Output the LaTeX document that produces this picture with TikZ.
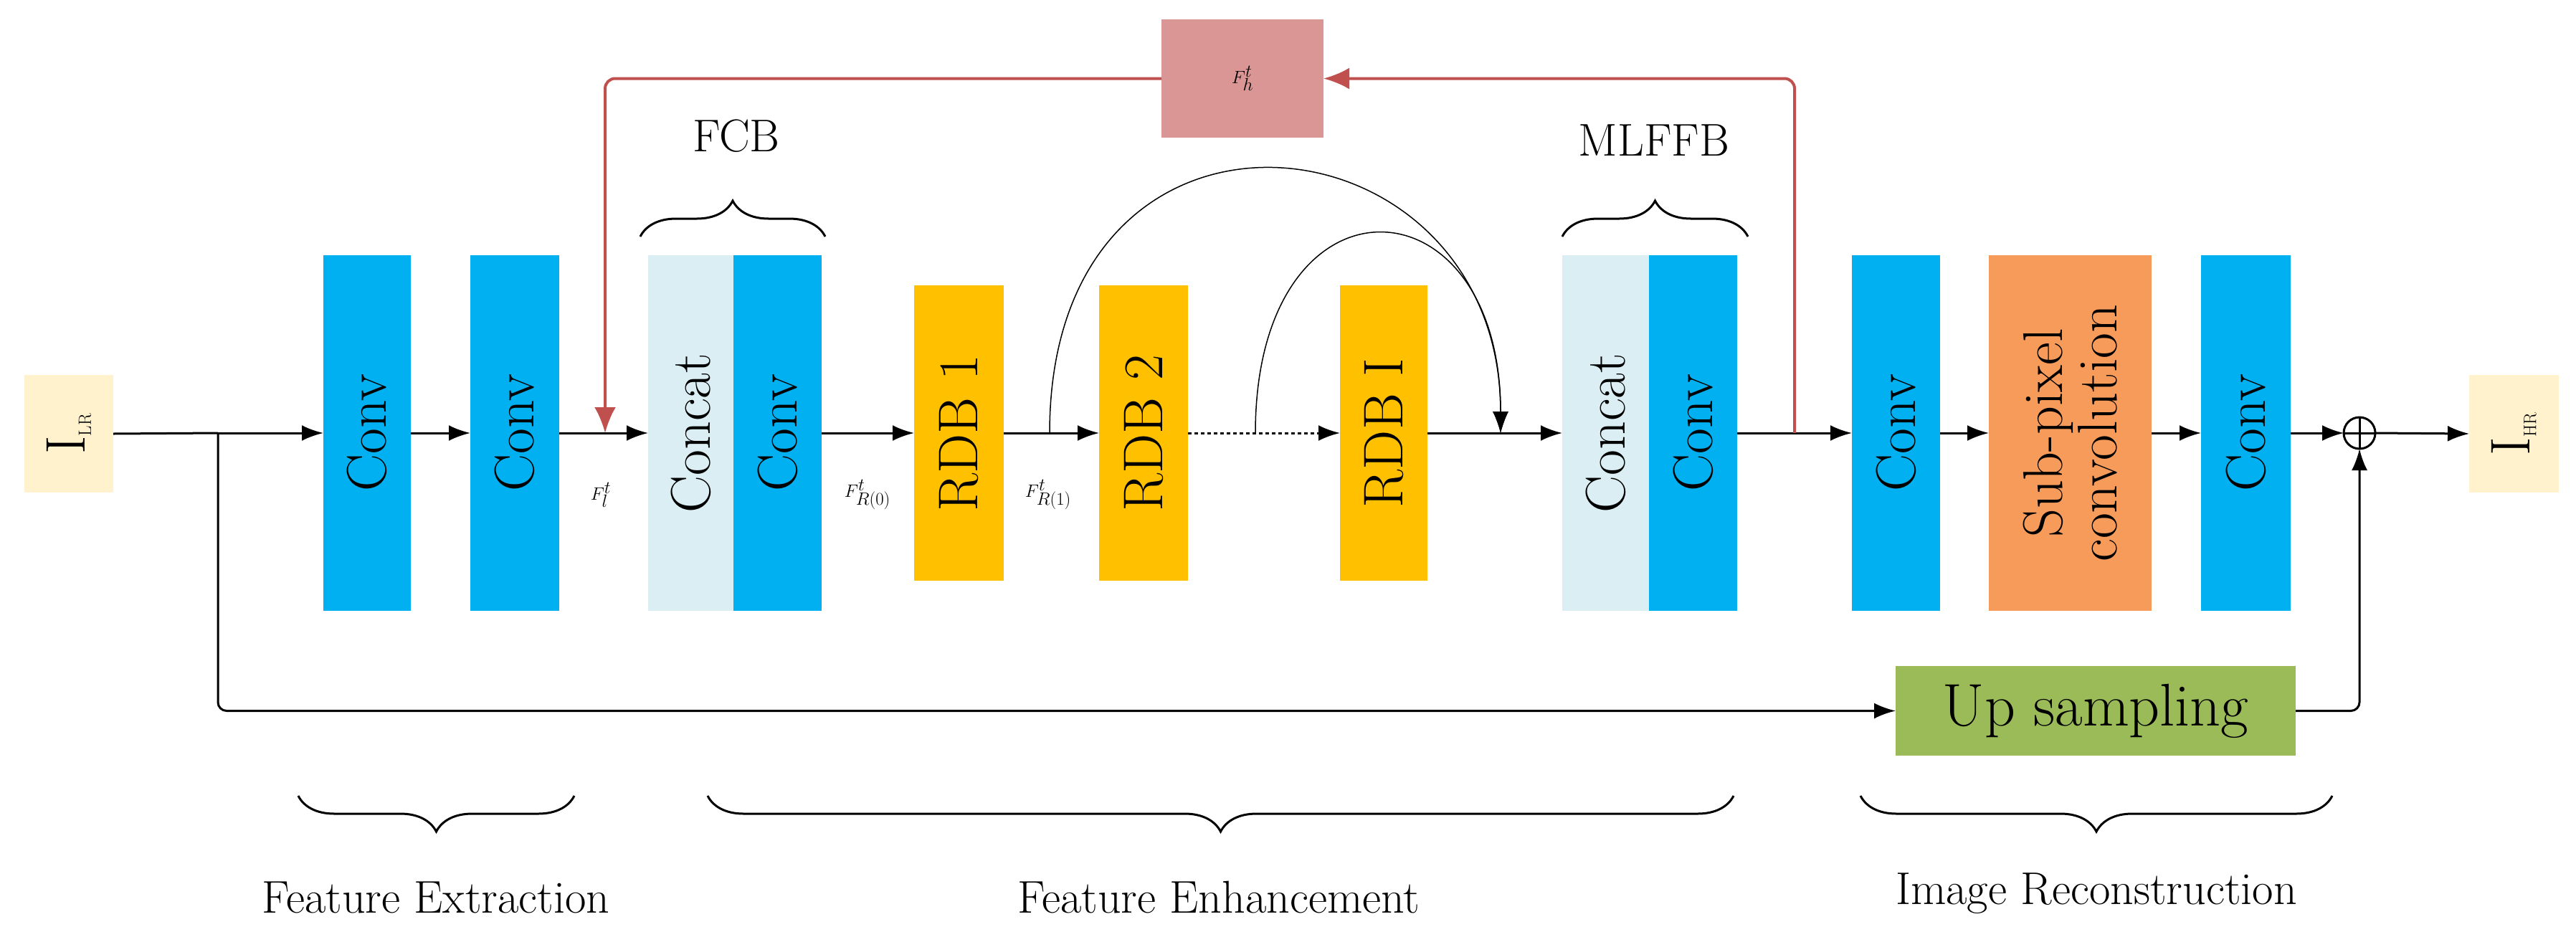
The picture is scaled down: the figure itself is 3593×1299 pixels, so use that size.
\documentclass[tikz,border=0pt]{standalone}
\usetikzlibrary{arrows.meta,decorations.pathreplacing,calc}
\definecolor{convc}{HTML}{00B0F0}
\definecolor{catc}{HTML}{DAEEF3}
\definecolor{rdbc}{HTML}{FFC000}
\definecolor{subc}{HTML}{F79B5A}
\definecolor{upc}{HTML}{9BBB59}
\definecolor{redc}{HTML}{C0504D}
\definecolor{fhc}{HTML}{D99694}
\definecolor{ioc}{HTML}{FFF2CC}
\begin{document}
\begin{tikzpicture}[x=1pt,y=-1pt,
  blk/.style={inner sep=0pt,outer sep=0pt},
  big/.style={font=\fontsize{78}{88}\selectfont},
  arr/.style={line width=3pt,-{Latex[length=30pt,width=22pt]}},
  lin/.style={line width=3pt},
  brc/.style={line width=3pt,decorate,decoration={brace,amplitude=50pt}},
  lab/.style={font=\fontsize{64}{72}\selectfont},
  fl/.style={font=\fontsize{62}{70}\selectfont}]
\useasboundingbox (0,0) rectangle (3593,1299);
% boxes
\node[blk,fill=ioc,minimum width=124,minimum height=164] (ilr) at (96,605) {};
\node[big,rotate=90] at (ilr) {I$_{\fontsize{44}{50}\selectfont\mathrm{LR}}$};
\node[blk,fill=convc,minimum width=122,minimum height=496] (c1) at (512,604) {};
\node[big,rotate=90] at (c1) {Conv};
\node[blk,fill=convc,minimum width=124,minimum height=496] (c2) at (718,604) {};
\node[big,rotate=90] at (c2) {Conv};
\node[blk,fill=catc,minimum width=119,minimum height=496] (cat1) at (963.5,604) {};
\node[big,rotate=90] at (cat1) {Concat};
\node[blk,fill=convc,minimum width=123,minimum height=496] (cv1) at (1084.5,604) {};
\node[big,rotate=90] at (cv1) {Conv};
\node[blk,fill=rdbc,minimum width=125,minimum height=412] (r1) at (1337.5,604) {};
\node[big,rotate=90] at (r1) {RDB 1};
\node[blk,fill=rdbc,minimum width=124,minimum height=412] (r2) at (1595,604) {};
\node[big,rotate=90] at (r2) {RDB 2};
\node[blk,fill=rdbc,minimum width=122,minimum height=412] (rI) at (1930,604) {};
\node[big,rotate=90] at (rI) {RDB I};
\node[blk,fill=catc,minimum width=121,minimum height=496] (cat2) at (2239.5,604) {};
\node[big,rotate=90] at (cat2) {Concat};
\node[blk,fill=convc,minimum width=123,minimum height=496] (cv2) at (2361.5,604) {};
\node[big,rotate=90] at (cv2) {Conv};
\node[blk,fill=convc,minimum width=123,minimum height=496] (c3) at (2644.5,604) {};
\node[big,rotate=90] at (c3) {Conv};
\node[blk,fill=subc,minimum width=227,minimum height=496] (sp) at (2887.5,604) {};
\node[big,rotate=90,align=center] at (sp) {Sub-pixel\\[-12pt]convolution};
\node[blk,fill=convc,minimum width=125,minimum height=496] (c4) at (3132.5,604) {};
\node[big,rotate=90] at (c4) {Conv};
\node[blk,draw,circle,line width=3pt,minimum size=44] (o) at (3291,604) {};
\draw[line width=3pt] (o.north) -- (o.south) (o.west) -- (o.east);
\node[blk,fill=ioc,minimum width=125,minimum height=164] (ihr) at (3506.5,605) {};
\node[big,rotate=90] at (ihr) {I$_{\fontsize{44}{50}\selectfont\mathrm{HR}}$};
\node[blk,fill=upc,minimum width=558,minimum height=125] (up) at (2923,991.5) {};
\node[font=\fontsize{84}{94}\selectfont] at (up) {Up sampling};
\node[blk,fill=fhc,minimum width=226,minimum height=165] (fh) at (1733,109.5) {};
\node[fl] at (fh) {$F_h^t$};
% main line
\coordinate (b) at (304,604);
\coordinate (rt) at (2503,604);
\coordinate (rl) at (844,604);
\coordinate (m) at (2093,604);
\draw[lin] (ilr.east) -- (b);
\draw[arr] (b) -- (c1.west);
\draw[arr] (c1.east) -- (c2.west);
\draw[arr] (c2.east) -- (cat1.west);
\draw[arr] (cv1.east) -- (r1.west);
\draw[arr] (r1.east) -- (r2.west);
\draw[arr,dash pattern=on 5pt off 4pt] (r2.east) -- (rI.west);
\draw[arr] (rI.east) -- (cat2.west);
\draw[arr] (cv2.east) -- (c3.west);
\draw[arr] (c3.east) -- (sp.west);
\draw[arr] (sp.east) -- (c4.west);
\draw[arr] (c4.east) -- (o.west);
\draw[arr] (o.east) -- (ihr.west);
\draw[arr,rounded corners=12pt] (b) |- (up.west);
\draw[arr,rounded corners=12pt] (up.east) -| (o.south);
% red feedback
\draw[line width=4pt,redc,-{Latex[length=36pt,width=30pt]},rounded corners=14pt] (rt) |- (fh.east);
\draw[line width=4pt,redc,-{Latex[length=36pt,width=30pt]},rounded corners=14pt] (fh.west) -| (rl);
% arcs
\coordinate (a1) at (1464,604);
\coordinate (a2) at (1751,604);
\draw[line width=1.5pt,-{Latex[length=30pt,width=22pt]}] (a1) .. controls (1464,80) and (2093,150) .. (m);
\draw[line width=1.5pt,-{Latex[length=30pt,width=22pt]}] (a2) .. controls (1751,230) and (2093,240) .. (m);
% signal labels
\node[fl] at (838,690) {$F_l^t$};
\node[fl] at (1210,690) {$F_{R(0)}^t$};
\node[fl] at (1462,690) {$F_{R(1)}^t$};
% braces
\draw[brc] (893,330) -- (1151,330);
\node[lab] at (1027,190) {FCB};
\draw[brc] (2179,330) -- (2438,330);
\node[lab] at (2307,196) {MLFFB};
\draw[brc] (801,1110) -- (416,1110);
\node[lab] at (608,1252) {Feature Extraction};
\draw[brc] (2418,1110) -- (987,1110);
\node[lab] at (1700,1252) {Feature Enhancement};
\draw[brc] (3253,1110) -- (2595,1110);
\node[lab] at (2924,1246) {Image Reconstruction};
\end{tikzpicture}
\end{document}
